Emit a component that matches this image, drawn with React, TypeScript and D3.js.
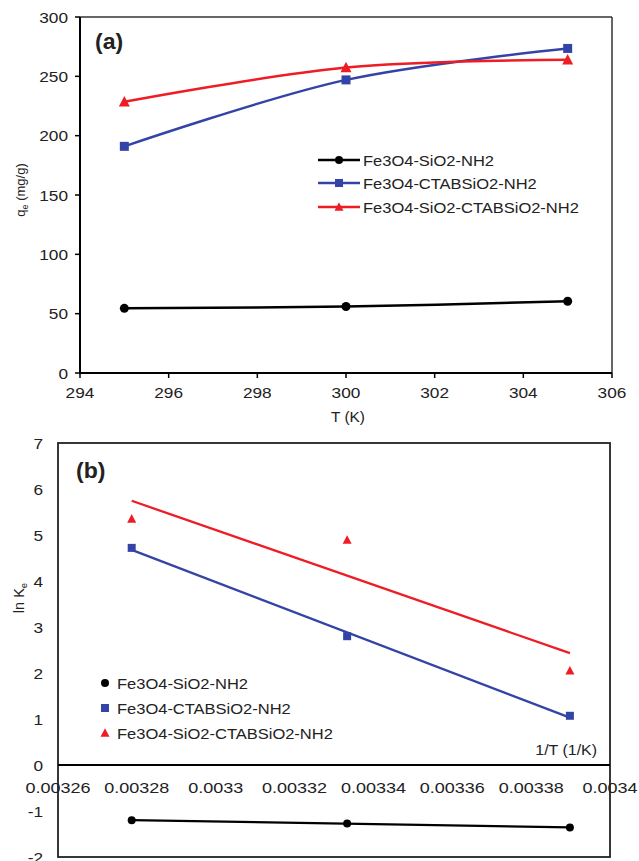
import React from "react";
import * as d3 from "d3";

const temps = [295, 300, 305];
const qeFSN = [54.5, 56, 60.5];
const qeFCSN = [191, 247, 273.5];
const qeFSCSN = [228.5, 257.5, 264];

const invT = [1 / 295, 1 / 300, 1 / 305];
const lnFSN = [-1.36, -1.27, -1.2];
const lnFCSN = [1.07, 2.8, 4.72];
const lnFSCSN = [2.05, 4.89, 5.35];

const seriesNames = ["Fe3O4-SiO2-NH2", "Fe3O4-CTABSiO2-NH2", "Fe3O4-SiO2-CTABSiO2-NH2"];
const colors = ["#000000", "#3444a6", "#ee1c25"];

const aXTicks = [294, 296, 298, 300, 302, 304, 306];
const aYTicks = [0, 50, 100, 150, 200, 250, 300];
const bXTicks = [0.00326, 0.00328, 0.0033, 0.00332, 0.00334, 0.00336, 0.00338, 0.0034];
const bXTickLabels = ["0.00326", "0.00328", "0.0033", "0.00332", "0.00334", "0.00336", "0.00338", "0.0034"];
const bYTicks = [-2, -1, 0, 1, 2, 3, 4, 5, 6, 7];

const FONT = "'Liberation Sans', Arial, sans-serif";

function Txt({ x, y, anchor = "start", size = 15, sx = 1.15, weight = "normal", rotate = 0, children }: any) {
  return (
    <text
      transform={`translate(${x},${y}) rotate(${rotate}) scale(${sx},1)`}
      textAnchor={anchor}
      fontSize={size}
      fontWeight={weight}
      fontFamily={FONT}
      fill="#222"
    >
      {children}
    </text>
  );
}

function Marker({ kind, x, y, s, color }: any) {
  if (kind === 0) return <circle cx={x} cy={y} r={s / 2} fill={color} />;
  if (kind === 1) return <rect x={x - s / 2} y={y - s / 2} width={s} height={s} fill={color} />;
  const h = s * 0.95;
  return (
    <path
      d={`M${x},${y - h / 2 - 1}L${x + s / 2 + 0.5},${y + h / 2}L${x - s / 2 - 0.5},${y + h / 2}Z`}
      fill={color}
    />
  );
}

function regress(xs: number[], ys: number[]) {
  const mx = d3.mean(xs)!;
  const my = d3.mean(ys)!;
  let num = 0, den = 0;
  xs.forEach((x, i) => {
    num += (x - mx) * (ys[i] - my);
    den += (x - mx) * (x - mx);
  });
  const b = num / den;
  const a = my - b * mx;
  return (x: number) => a + b * x;
}

export default function App() {
  // Panel (a)
  const ax = d3.scaleLinear().domain([294, 306]).range([80, 612]);
  const ay = d3.scaleLinear().domain([0, 300]).range([373, 17]);
  const aSeries = [qeFSN, qeFCSN, qeFSCSN];
  const aLine = d3
    .line<number>()
    .x((_, i) => ax(temps[i]))
    .y((d) => ay(d))
    .curve(d3.curveCatmullRom.alpha(0.5));

  // Panel (b)
  const bx = d3.scaleLinear().domain([0.00326, 0.0034]).range([58, 610]);
  const by = d3.scaleLinear().domain([-2, 7]).range([857, 443]);
  const bSeries = [lnFSN, lnFCSN, lnFSCSN];
  const xMin = d3.min(invT)!;
  const xMax = d3.max(invT)!;

  const aLegY = [160, 183, 207];
  const bLegY = [683, 708, 733];

  return (
    <svg width={639} height={861} style={{ position: "absolute", left: 0, top: 0, background: "#fff" }}>
      <rect x={0} y={0} width={639} height={861} fill="#fff" />
      {/* ===== Panel (a) ===== */}
      <line x1={ax(294)} x2={ax(306)} y1={ay(300)} y2={ay(300)} stroke="#333" strokeWidth={1.5} />
      <line x1={ax(306)} x2={ax(306)} y1={ay(300)} y2={ay(0)} stroke="#333" strokeWidth={1.5} />
      <line x1={ax(294)} x2={ax(294)} y1={ay(300)} y2={ay(0) + 1} stroke="#000" strokeWidth={2} />
      <line x1={ax(294)} x2={ax(306)} y1={ay(0)} y2={ay(0)} stroke="#000" strokeWidth={2} />
      {aYTicks.map((t) => (
        <g key={"ay" + t}>
          <line x1={ax(294) - 5} x2={ax(294)} y1={ay(t)} y2={ay(t)} stroke="#000" strokeWidth={1.5} />
          <Txt x={68} y={ay(t) + 5.5} anchor="end">{t}</Txt>
        </g>
      ))}
      {aXTicks.map((t) => (
        <g key={"ax" + t}>
          <line x1={ax(t)} x2={ax(t)} y1={ay(0)} y2={ay(0) + 5} stroke="#000" strokeWidth={1.5} />
          <Txt x={ax(t)} y={398} anchor="middle">{t}</Txt>
        </g>
      ))}
      <Txt x={348} y={422} anchor="middle" size={14} sx={1.1}>T (K)</Txt>
      <text transform="translate(25,190) rotate(-90)" textAnchor="middle" fontSize={13} fontFamily={FONT} fill="#222">
        q<tspan fontSize={9} dy={3}>e</tspan>
        <tspan dy={-3}> (mg/g)</tspan>
      </text>
      <Txt x={95} y={49} size={22} sx={1.05} weight="bold">(a)</Txt>
      {aSeries.map((s, k) => (
        <g key={"as" + k}>
          <path d={aLine(s)!} fill="none" stroke={colors[k]} strokeWidth={2.5} />
          {s.map((v, i) => (
            <Marker key={i} kind={k} x={ax(temps[i])} y={ay(v)} s={k === 2 ? 10 : 9} color={colors[k]} />
          ))}
        </g>
      ))}
      {seriesNames.map((n, k) => (
        <g key={"al" + k}>
          <line x1={318} x2={360} y1={aLegY[k]} y2={aLegY[k]} stroke={colors[k]} strokeWidth={2.5} />
          <Marker kind={k} x={339} y={aLegY[k]} s={k === 2 ? 8 : 8} color={colors[k]} />
          <Txt x={363} y={aLegY[k] + 5.5} size={15} sx={1.1}>{n}</Txt>
        </g>
      ))}

      {/* ===== Panel (b) ===== */}
      <rect x={bx(0.00326)} y={by(7)} width={bx(0.0034) - bx(0.00326)} height={by(-2) - by(7)} fill="none" stroke="#222" strokeWidth={1.8} />
      <line x1={bx(0.00326)} x2={bx(0.0034)} y1={by(0)} y2={by(0)} stroke="#000" strokeWidth={2} />
      {bYTicks.map((t) => (
        <Txt key={"by" + t} x={43} y={by(t) + 5.5} anchor="end">{t}</Txt>
      ))}
      {bXTicks.map((t, i) => (
        <Txt key={"bx" + t} x={bx(t)} y={793} anchor="middle" sx={1.2}>{bXTickLabels[i]}</Txt>
      ))}
      <Txt x={597} y={755} anchor="end" size={14.5} sx={1.1}>1/T (1/K)</Txt>
      <text transform="translate(24,598) rotate(-90)" textAnchor="middle" fontSize={14.5} fontFamily={FONT} fill="#222">
        ln K<tspan fontSize={9.5} dy={3}>e</tspan>
      </text>
      <Txt x={76} y={478} size={22} sx={1.05} weight="bold">(b)</Txt>
      {bSeries.map((s, k) => {
        const f = regress(invT, s);
        return (
          <g key={"bs" + k}>
            <line x1={bx(xMin)} x2={bx(xMax)} y1={by(f(xMin))} y2={by(f(xMax))} stroke={colors[k]} strokeWidth={2.3} />
            {s.map((v, i) => (
              <Marker key={i} kind={k} x={bx(invT[i])} y={by(v)} s={k === 0 ? 8 : 8} color={colors[k]} />
            ))}
          </g>
        );
      })}
      {seriesNames.map((n, k) => (
        <g key={"bl" + k}>
          <Marker kind={k} x={105} y={bLegY[k]} s={8} color={colors[k]} />
          <Txt x={117} y={bLegY[k] + 5.5} size={15} sx={1.1}>{n}</Txt>
        </g>
      ))}
    </svg>
  );
}
